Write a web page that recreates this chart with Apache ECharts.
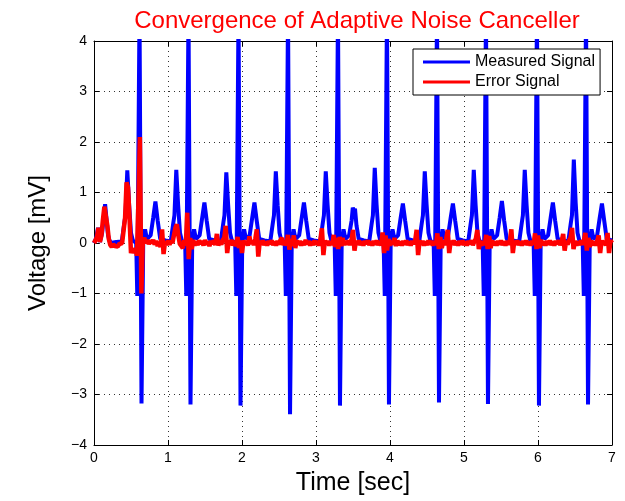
<!DOCTYPE html>
<html>
<head>
<meta charset="utf-8">
<script src="https://cdn.jsdelivr.net/npm/echarts@6/dist/echarts.min.js"></script>
<style>
  html, body { margin: 0; padding: 0; background: #fff; }
  #chart { width: 625px; height: 501px; }
</style>
</head>
<body>
<div id="chart"></div>
<script>
// axis ticks
var xTicks = [0, 1, 2, 3, 4, 5, 6, 7];          // Time [sec]
var yTicks = [-4, -3, -2, -1, 0, 1, 2, 3, 4];   // Voltage [mV]

// Measured Signal, [time, mV] (R peaks go past the top)
var measured = [
  [0.0, 0.0], [0.03, 0.1], [0.054, 0.3], [0.08, 0.02], [0.11, 0.2], [0.15, 0.77], [0.19, 0.15], [0.22, 0.0], [0.3, 0.02],
  // beat 1
  [0.375, 0.03], [0.41, 0.4], [0.425, 0.55], [0.45, 1.44], [0.475, 0.75], [0.5, 0.2], [0.525, 0.05], [0.57, 0.0],
  [0.585, -1.05], [0.615, 4.6], [0.642, -3.18], [0.665, 0.0], [0.69, 0.27], [0.715, 0.08], [0.765, 0.15],
  [0.8, 0.5], [0.83, 0.82], [0.86, 0.45], [0.895, 0.08], [0.965, 0.05],
  // beat 2
  [1.037, 0.03], [1.072, 0.4], [1.087, 0.55], [1.112, 1.45], [1.137, 0.75], [1.162, 0.2], [1.187, 0.05], [1.232, 0.0],
  [1.247, -1.05], [1.277, 4.6], [1.304, -3.2], [1.327, 0.0], [1.352, 0.27], [1.377, 0.08], [1.427, 0.15],
  [1.462, 0.5], [1.492, 0.8], [1.522, 0.45], [1.557, 0.08], [1.627, 0.05],
  // beat 3
  [1.713, 0.03], [1.748, 0.4], [1.763, 0.55], [1.788, 1.40], [1.813, 0.75], [1.838, 0.2], [1.863, 0.05], [1.908, 0.0],
  [1.923, -1.05], [1.953, 4.6], [1.98, -3.22], [2.003, 0.0], [2.028, 0.27], [2.053, 0.08], [2.103, 0.15],
  [2.138, 0.5], [2.168, 0.8], [2.198, 0.45], [2.233, 0.08], [2.303, 0.05],
  // beat 4
  [2.382, 0.03], [2.417, 0.4], [2.432, 0.55], [2.457, 1.42], [2.482, 0.75], [2.507, 0.2], [2.532, 0.05], [2.577, 0.0],
  [2.592, -1.05], [2.622, 4.6], [2.649, -3.39], [2.672, 0.0], [2.697, 0.27], [2.722, 0.08], [2.772, 0.15],
  [2.807, 0.5], [2.837, 0.8], [2.867, 0.45], [2.902, 0.08], [2.972, 0.05],
  // beat 5
  [3.057, 0.03], [3.092, 0.4], [3.107, 0.55], [3.132, 1.42], [3.157, 0.75], [3.182, 0.2], [3.207, 0.05], [3.252, 0.0],
  [3.267, -1.05], [3.297, 4.6], [3.324, -3.22], [3.347, 0.0], [3.372, 0.27], [3.397, 0.08], [3.447, 0.15],
  [3.482, 0.45], [3.497, 0.7], [3.512, 0.62], [3.527, 0.68], [3.547, 0.35], [3.577, 0.08], [3.647, 0.05],
  // beat 6
  [3.719, 0.03], [3.754, 0.4], [3.769, 0.55], [3.794, 1.49], [3.819, 0.75], [3.844, 0.2], [3.869, 0.05], [3.914, 0.0],
  [3.929, -1.05], [3.959, 4.6], [3.986, -3.2], [4.009, 0.0], [4.034, 0.27], [4.059, 0.08], [4.109, 0.15],
  [4.144, 0.5], [4.174, 0.78], [4.204, 0.45], [4.239, 0.08], [4.309, 0.05],
  // beat 7
  [4.395, 0.03], [4.43, 0.4], [4.445, 0.55], [4.47, 1.42], [4.495, 0.75], [4.52, 0.2], [4.545, 0.05], [4.59, 0.0],
  [4.605, -1.05], [4.635, 4.6], [4.662, -3.16], [4.685, 0.0], [4.71, 0.27], [4.735, 0.08], [4.785, 0.15],
  [4.82, 0.5], [4.85, 0.78], [4.88, 0.45], [4.915, 0.08], [4.985, 0.05],
  // beat 8
  [5.057, 0.03], [5.092, 0.4], [5.107, 0.55], [5.132, 1.45], [5.157, 0.75], [5.182, 0.2], [5.207, 0.05], [5.252, 0.0],
  [5.267, -1.05], [5.297, 4.6], [5.324, -3.19], [5.347, 0.0], [5.372, 0.27], [5.397, 0.08], [5.447, 0.15],
  [5.482, 0.5], [5.512, 0.83], [5.542, 0.45], [5.577, 0.08], [5.647, 0.05],
  // beat 9
  [5.746, 0.03], [5.781, 0.4], [5.796, 0.55], [5.821, 1.45], [5.846, 0.75], [5.871, 0.2], [5.896, 0.05], [5.941, 0.0],
  [5.956, -1.05], [5.986, 4.6], [6.013, -3.22], [6.036, 0.0], [6.061, 0.27], [6.086, 0.08], [6.136, 0.15],
  [6.171, 0.5], [6.201, 0.8], [6.231, 0.45], [6.266, 0.08], [6.336, 0.05],
  // beat 10
  [6.409, 0.03], [6.444, 0.4], [6.459, 0.55], [6.484, 1.65], [6.509, 0.8], [6.534, 0.2], [6.559, 0.05], [6.604, 0.0],
  [6.619, -1.05], [6.649, 4.6], [6.676, -3.2], [6.699, 0.0], [6.724, 0.27], [6.749, 0.08], [6.799, 0.15],
  [6.834, 0.5], [6.864, 0.78], [6.894, 0.45], [6.929, 0.08], [7.0, 0.05]
];

// Error Signal, one value every 0.02 s from t = 0
var errStep = 0.02;
var errorVals = [
  0.0, 0.05, 0.12, 0.3, 0.02, 0.15, 0.45, 0.72, 0.7, 0.35,
  0.08, -0.04, -0.08, -0.02, -0.06, -0.03, -0.07, -0.02, -0.05, 0.0,
  0.25, 0.5, 1.2, 1.1, 0.5, -0.2, -0.12, -0.2, -0.1, -0.25,
  0.8, 2.1, -1.0, 0.05, 0.1, 0.0, 0.06, -0.02, 0.05, 0.0,
  0.06, -0.03, 0.04, -0.06, 0.02, -0.08, 0.27, -0.22, 0.03, -0.04,
  0.05, -0.03, 0.04, 0.0, 0.15, 0.3, 0.37, 0.15, -0.02, -0.06,
  -0.1, 0.05, -0.05, 0.6, -0.32, 0.1, -0.12, 0.06, -0.05, 0.03,
  -0.04, 0.05, -0.02, 0.04, -0.05, 0.06, -0.03, 0.03, -0.06, 0.04,
  -0.02, 0.05, -0.04, 0.18, -0.05, 0.04, -0.03, 0.06, 0.1, 0.34,
  -0.2, 0.05, -0.04, 0.06, -0.05, 0.04, -0.06, 0.12, -0.1, 0.05,
  -0.2, 0.05, -0.03, 0.04, -0.05, 0.13, -0.02, 0.05, -0.04, 0.08,
  0.27, -0.27, 0.04, -0.03, 0.05, -0.04, 0.03, -0.05, 0.04, -0.02,
  0.05, -0.04, 0.03, -0.05, 0.04, -0.03, 0.06, 0.1, -0.04, 0.03,
  -0.05, 0.16, -0.13, 0.08, -0.06, 0.15, -0.1, 0.05, -0.03, 0.04,
  -0.05, 0.03, -0.04, 0.06, -0.02, 0.04, -0.05, 0.03, -0.04, 0.05,
  -0.03, 0.04, -0.05, 0.08, 0.29, -0.24, 0.05, -0.03, 0.04, -0.05,
  0.03, -0.04, 0.16, -0.08, 0.1, -0.12, 0.12, -0.06, 0.1, -0.04,
  0.04, -0.03, 0.05, -0.04, 0.06, 0.26, -0.15, 0.04, -0.03, 0.05,
  -0.04, 0.03, -0.05, 0.04, -0.02, 0.05, -0.04, 0.03, -0.05, 0.04,
  -0.03, 0.05, -0.04, 0.03, -0.05, 0.21, -0.2, 0.15, -0.15, 0.08,
  -0.05, 0.04, -0.03, 0.1, -0.06, 0.05, -0.04, 0.03, -0.05, 0.04,
  -0.03, 0.05, -0.04, 0.03, -0.05, 0.04, -0.02, 0.05, 0.26, -0.24,
  0.05, -0.03, 0.04, -0.05, 0.03, -0.04, 0.05, -0.03, 0.04, -0.05,
  0.03, -0.04, 0.19, -0.12, 0.12, -0.1, 0.05, -0.04, 0.08, 0.26,
  -0.2, 0.04, -0.03, 0.05, -0.04, 0.03, -0.05, 0.04, -0.03, 0.05,
  -0.04, 0.03, -0.05, 0.04, -0.02, 0.05, -0.04, 0.03, 0.08, 0.26,
  -0.12, 0.04, -0.05, 0.03, -0.04, 0.16, -0.12, 0.14, -0.1, 0.05,
  -0.04, 0.03, -0.05, 0.04, -0.03, 0.05, -0.04, 0.03, -0.05, 0.04,
  -0.03, 0.05, 0.27, -0.2, 0.04, -0.03, 0.05, -0.04, 0.03, -0.05,
  0.04, -0.03, 0.05, -0.04, 0.03, -0.05, 0.04, -0.03, 0.19, -0.12,
  0.15, -0.1, 0.06, -0.04, 0.03, -0.05, 0.04, -0.03, 0.05, -0.04,
  0.03, -0.05, 0.04, -0.02, 0.05, -0.04, 0.03, 0.18, -0.15, 0.04,
  -0.03, 0.05, 0.1, 0.3, -0.12, 0.04, -0.05, 0.03, -0.04, 0.05,
  -0.03, 0.04, 0.2, -0.15, 0.1, -0.08, 0.05, -0.04, 0.03, -0.05,
  0.04, 0.15, -0.2, 0.05, -0.03, 0.04, -0.05, 0.2, -0.2, 0.05,
  0.0
];

var font = 'Liberation Sans, Arial, Helvetica, sans-serif';

var errorData = errorVals.map(function (v, i) {
  return [+(i * errStep).toFixed(2), v];
});

var minusFmt = function (v) {
  return String(v).replace('-', '\u2212');
};

var chart = echarts.init(document.getElementById('chart'));

var gridLine = { show: true, lineStyle: { color: '#333', width: 1, type: [1, 4] } };
var frameLine = { show: true, onZero: false, lineStyle: { color: '#000', width: 1 } };
var tick = { show: true, inside: true, length: 5, lineStyle: { color: '#000', width: 1 } };

var option = {
  animation: false,
  backgroundColor: '#fff',
  title: {
    text: 'Convergence of Adaptive Noise Canceller',
    left: 352,
    textAlign: 'center',
    top: 4,
    textStyle: { color: '#ff0000', fontSize: 24, fontWeight: 'normal', fontFamily: font }
  },
  legend: {
    data: ['Measured Signal', 'Error Signal'],
    orient: 'vertical',
    left: 413,
    top: 49,
    backgroundColor: '#fff',
    borderColor: '#000',
    borderWidth: 1,
    borderRadius: 0,
    padding: [5, 5, 5, 10],
    itemGap: 4,
    itemWidth: 47,
    itemHeight: 3,
    icon: 'rect',
    textStyle: { color: '#000', fontSize: 16, fontFamily: font, lineHeight: 16 }
  },
  grid: { left: 94, right: 13, top: 41, bottom: 53 },
  xAxis: [
    {
      type: 'value',
      min: xTicks[0],
      max: xTicks[xTicks.length - 1],
      interval: 1,
      position: 'bottom',
      name: 'Time [sec]',
      nameLocation: 'middle',
      nameGap: 26,
      nameTextStyle: { color: '#000', fontSize: 25, fontFamily: font },
      axisLine: frameLine,
      axisTick: tick,
      axisLabel: { color: '#000', fontSize: 14, fontFamily: font, margin: 6 },
      splitLine: gridLine
    },
    {
      type: 'value',
      min: xTicks[0],
      max: xTicks[xTicks.length - 1],
      interval: 1,
      position: 'top',
      axisLine: frameLine,
      axisTick: tick,
      axisLabel: { show: false },
      splitLine: { show: false }
    }
  ],
  yAxis: [
    {
      type: 'value',
      min: yTicks[0],
      max: yTicks[yTicks.length - 1],
      interval: 1,
      position: 'left',
      name: 'Voltage [mV]',
      nameLocation: 'middle',
      nameGap: 44,
      nameTextStyle: { color: '#000', fontSize: 24, fontFamily: font },
      axisLine: frameLine,
      axisTick: tick,
      axisLabel: { color: '#000', fontSize: 14, fontFamily: font, margin: 7, formatter: minusFmt },
      splitLine: gridLine
    },
    {
      type: 'value',
      min: yTicks[0],
      max: yTicks[yTicks.length - 1],
      interval: 1,
      position: 'right',
      axisLine: frameLine,
      axisTick: tick,
      axisLabel: { show: false },
      splitLine: { show: false }
    }
  ],
  series: [
    {
      name: 'Measured Signal',
      type: 'line',
      data: measured,
      showSymbol: false,
      clip: true,
      color: '#0000ff',
      lineStyle: { color: '#0000ff', width: 4 }
    },
    {
      name: 'Error Signal',
      type: 'line',
      data: errorData,
      showSymbol: false,
      clip: true,
      color: '#ff0000',
      lineStyle: { color: '#ff0000', width: 4.5 }
    }
  ]
};

chart.setOption(option);
</script>
</body>
</html>
